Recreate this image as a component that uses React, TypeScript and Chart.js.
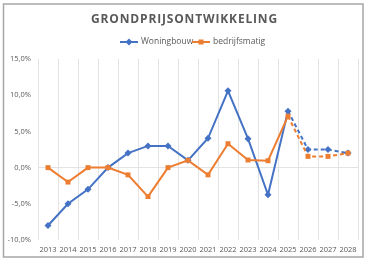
import React, { useEffect, useRef } from "react";
import { Chart, registerables } from "chart.js";

Chart.register(...registerables);

const years = ["2013","2014","2015","2016","2017","2018","2019","2020","2021","2022","2023","2024","2025","2026","2027","2028"];
const woningbouw = [-8, -5, -3, 0, 2, 3, 3, 1, 4.05, 10.6, 4.0, -3.75, 7.8, 2.5, 2.5, 2.0];
const bedrijfsmatig = [0, -2, 0, 0, -1, -4, 0, 1, -1, 3.3, 1.05, 0.95, 7.1, 1.55, 1.55, 2.0];
const yTicks = [-10, -5, 0, 5, 10, 15];
const forecastStart = 12;

const BLUE = "#4472C4";
const ORANGE = "#ED7D31";
const TEXT = "#595959";
const FONT = "'Open Sans', sans-serif";

const decorPlugin = {
  id: "decor",
  afterDraw(chart: any) {
    const ctx = chart.ctx as CanvasRenderingContext2D;
    ctx.save();
    // border
    ctx.strokeStyle = "#a6a6a6";
    ctx.lineWidth = 1.5;
    ctx.strokeRect(3.5, 4, 359.5, 253);
    // title
    const title = "GRONDPRIJSONTWIKKELING";
    ctx.font = "bold 12px 'Open Sans', sans-serif";
    ctx.fillStyle = TEXT;
    ctx.textBaseline = "middle";
    (ctx as any).letterSpacing = "0px";
    const w0 = ctx.measureText(title).width;
    const target = 187;
    const sp = (target - w0) / title.length;
    (ctx as any).letterSpacing = sp + "px";
    ctx.textAlign = "left";
    ctx.fillText(title, 184.5 - target / 2, 20);
    (ctx as any).letterSpacing = "0px";
    // legend
    ctx.font = "8.5px " + FONT;
    const ly = 42;
    const drawItem = (x: number, color: string, style: string, label: string) => {
      ctx.strokeStyle = color;
      ctx.lineWidth = 2;
      ctx.beginPath();
      ctx.moveTo(x, ly);
      ctx.lineTo(x + 18, ly);
      ctx.stroke();
      ctx.fillStyle = color;
      ctx.beginPath();
      if (style === "rectRot") {
        ctx.moveTo(x + 9, ly - 3.5);
        ctx.lineTo(x + 12.5, ly);
        ctx.lineTo(x + 9, ly + 3.5);
        ctx.lineTo(x + 5.5, ly);
        ctx.closePath();
      } else {
        ctx.rect(x + 6.5, ly - 2.5, 5, 5);
      }
      ctx.fill();
      ctx.fillStyle = TEXT;
      ctx.textAlign = "left";
      ctx.fillText(label, x + 21, ly);
    };
    drawItem(120, BLUE, "rectRot", "Woningbouw");
    drawItem(192, ORANGE, "rect", "bedrijfsmatig");
    ctx.restore();
  },
};

export default function App() {
  const ref = useRef<HTMLCanvasElement>(null);
  useEffect(() => {
    document.body.style.margin = "0";
    const dashSeg = {
      borderDash: (c: any) => (c.p0DataIndex >= forecastStart ? [4, 3] : undefined),
    };
    const chart = new Chart(ref.current!, {
      type: "line",
      data: {
        labels: years,
        datasets: [
          {
            label: "Woningbouw",
            data: woningbouw,
            borderColor: BLUE,
            backgroundColor: BLUE,
            borderWidth: 2,
            pointStyle: "rectRot",
            pointRadius: 3.5,
            pointBorderWidth: 0,
            tension: 0,
            segment: dashSeg,
            order: 1,
          },
          {
            label: "bedrijfsmatig",
            data: bedrijfsmatig,
            borderColor: ORANGE,
            backgroundColor: ORANGE,
            borderWidth: 2,
            pointStyle: "rect",
            pointRadius: 3.5,
            pointBorderWidth: 0,
            tension: 0,
            segment: dashSeg,
            order: 0,
          },
        ],
      },
      options: {
        responsive: false,
        animation: false,
        layout: { padding: { top: 59, right: 15, bottom: 4, left: 8 } },
        plugins: { legend: { display: false }, title: { display: false }, tooltip: { enabled: false } },
        scales: {
          x: {
            offset: true,
            grid: { offset: true, color: "#e3e3e3", drawTicks: false, lineWidth: 1 },
            border: { display: false },
            ticks: { color: TEXT, font: { family: FONT, size: 7.5 }, padding: 5, maxRotation: 0, autoSkip: false },
          },
          y: {
            min: -10,
            max: 15,
            afterBuildTicks: (axis: any) => {
              axis.ticks = yTicks.map((v) => ({ value: v }));
            },
            afterFit: (axis: any) => {
              axis.width = 30;
            },
            grid: {
              color: (c: any) => (c.tick && c.tick.value === 0 ? "#e3e3e3" : "rgba(0,0,0,0)"),
              drawTicks: false,
            },
            border: { display: false },
            ticks: {
              color: TEXT,
              font: { family: FONT, size: 7.5 },
              padding: 7,
              callback: (v: any) => Number(v).toFixed(1).replace(".", ",") + "%",
            },
          },
        },
      },
      plugins: [decorPlugin],
    });
    return () => chart.destroy();
  }, []);
  return (
    <div style={{ position: "absolute", left: 0, top: 0, width: 373, height: 263, background: "#fff" }}>
      <canvas ref={ref} width={373} height={263} />
    </div>
  );
}
